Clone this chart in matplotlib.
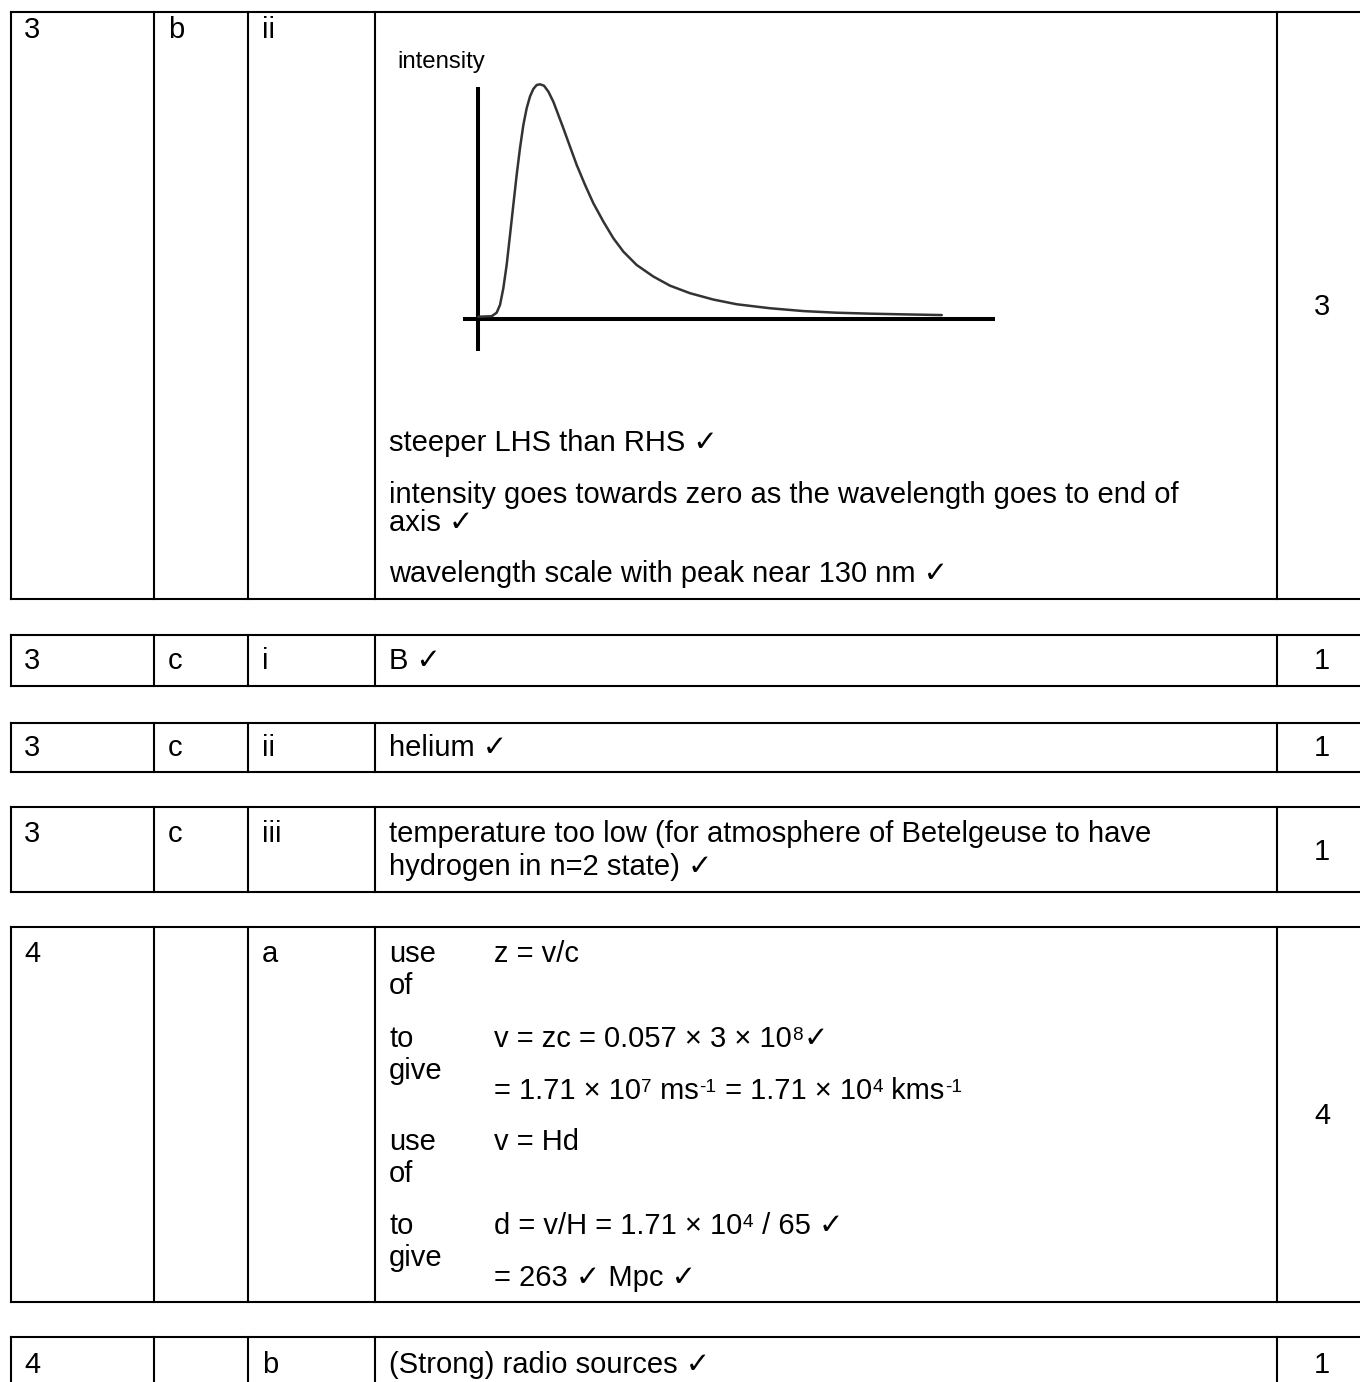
import matplotlib
matplotlib.use("Agg")
import matplotlib.pyplot as plt

FONT = ["Liberation Sans", "DejaVu Sans"]
FS = 21.0        # body text, pt
FS_SUP = 13.7    # superscripts
FS_LABEL = 17.3  # "intensity" label

# ---- table content ----
question = ["3", "3", "3", "3", "4", "4"]
part = ["b", "c", "c", "c", "", ""]
subpart = ["ii", "i", "ii", "iii", "a", "b"]
marks = ["3", "1", "1", "1", "4", "1"]

answer_3bii = [
    "steeper LHS than RHS ✓",
    "intensity goes towards zero as the wavelength goes to end of",
    "axis ✓",
    "wavelength scale with peak near 130 nm ✓",
]
answer_3ci = "B ✓"
answer_3cii = "helium ✓"
answer_3ciii = [
    "temperature too low (for atmosphere of Betelgeuse to have",
    "hydrogen in n=2 state) ✓",
]
answer_4b = "(Strong) radio sources ✓"

# 4a: words on the left, working on the right (text, superscript?)
steps_4a = [["use", "of"], ["to", "give"], ["use", "of"], ["to", "give"]]
working_4a = [
    [("z = v/c", False)],
    [("v = zc = 0.057 × 3 × 10", False), ("8", True), ("✓", False)],
    [("= 1.71 × 10", False), ("7", True), (" ms", False), ("-1", True),
     (" = 1.71 × 10", False), ("4", True), (" kms", False), ("-1", True)],
    [("v = Hd", False)],
    [("d = v/H = 1.71 × 10", False), ("4", True), (" / 65 ✓", False)],
    [("= 263 ✓ Mpc ✓", False)],
]

# ---- sketched black-body curve (arbitrary wavelength units, peak ~130) ----
wavelength = [0, 28.1, 38.6, 45.7, 52.7, 59.7, 66.8, 73.8, 80.8, 87.8, 94.9,
              101.9, 108.9, 115.9, 123.0, 130.0, 138.4, 147.6, 158.1, 168.6,
              179.2, 193.2, 207.3, 224.9, 242.4, 263.5, 284.6, 305.7, 333.8,
              368.9, 404.1, 446.2, 495.4, 544.6, 614.9, 685.1, 755.4, 825.7,
              895.9, 976.8]
intensity = [0.011, 0.013, 0.028, 0.061, 0.132, 0.231, 0.359, 0.487, 0.614,
             0.728, 0.827, 0.898, 0.948, 0.980, 0.997, 1.000, 0.994, 0.969,
             0.926, 0.870, 0.813, 0.735, 0.657, 0.572, 0.494, 0.416, 0.345,
             0.288, 0.231, 0.182, 0.143, 0.111, 0.084, 0.064, 0.047, 0.035,
             0.028, 0.024, 0.021, 0.018]

# ---- layout (pixels) ----
W, H = 1360, 1382
col_x = [11, 154, 248, 375, 1277]
text_x = [24, 168, 262, 389]
mark_x = 1322
boxes = [(12, 599), (635, 686), (723, 772), (807, 892), (927, 1302), (1337, 1420)]

fig = plt.figure(figsize=(W / 100, H / 100), dpi=100)
ax = fig.add_axes([0, 0, 1, 1])
ax.set_xlim(0, W)
ax.set_ylim(H, 0)
ax.axis("off")

# box outlines
for top, bottom in boxes:
    ax.plot([col_x[0], W + 5], [top, top], color="black", lw=1.5, solid_capstyle="projecting")
    ax.plot([col_x[0], W + 5], [bottom, bottom], color="black", lw=1.5, solid_capstyle="projecting")
    for cx in col_x:
        ax.plot([cx, cx], [top, bottom], color="black", lw=1.5, solid_capstyle="projecting")


def put(x, y, s, size=FS, ha="left"):
    return ax.text(x, y, s, fontsize=size, family=FONT, va="baseline", ha=ha)


def rich(x, y, parts):
    # chain pieces left to right, superscripts raised
    first = put(x, y, parts[0][0])
    prev = first
    for s, sup in parts[1:]:
        prev = ax.annotate(s, xy=(1, 0), xycoords=(prev, first),
                           xytext=(0.3, 6.8 if sup else 0), textcoords="offset points",
                           fontsize=FS_SUP if sup else FS, family=FONT,
                           va="bottom", ha="left")
    return first


# first three columns and marks
row_base = [38, 669, 756, 842, 962, 1373]
mark_base = [315, 669, 756, 860, 1124, 1373]
for i in range(len(question)):
    put(text_x[0], row_base[i], question[i])
    put(text_x[1], row_base[i], part[i])
    put(text_x[2], row_base[i], subpart[i])
    put(mark_x, mark_base[i], marks[i], ha="center")

# 3 b ii
put(397, 68, "intensity", size=FS_LABEL)
for s, yb in zip(answer_3bii, [451, 503, 531, 582]):
    put(text_x[3], yb, s)

# 3 c i / ii / iii
put(text_x[3], 669, answer_3ci)
put(text_x[3], 756, answer_3cii)
for s, yb in zip(answer_3ciii, [842, 875]):
    put(text_x[3], yb, s)

# 4 a
step_base = [962, 1047, 1150, 1234]
for words, yb in zip(steps_4a, step_base):
    put(text_x[3], yb, words[0])
    put(text_x[3], yb + 32, words[1])
for parts, yb in zip(working_4a, [962, 1047, 1099, 1150, 1234, 1286]):
    rich(494, yb, parts)

# 4 b
put(text_x[3], 1373, answer_4b)

# sketch graph
gx0, gx1, gy0, gy1 = 463, 995, 87, 351
axg = fig.add_axes([gx0 / W, 1 - gy1 / H, (gx1 - gx0) / W, (gy1 - gy0) / H])
axg.set_xlim(-32.3, 1089)
axg.set_ylim(-0.1349, 0.9885)
axg.axis("off")
axg.axhline(0, color="black", lw=2.9)
axg.axvline(0, color="black", lw=2.9)
axg.plot(wavelength, intensity, color="#333333", lw=1.8,
         solid_joinstyle="round", solid_capstyle="round", clip_on=False)

fig.savefig("out.png", dpi=100)
